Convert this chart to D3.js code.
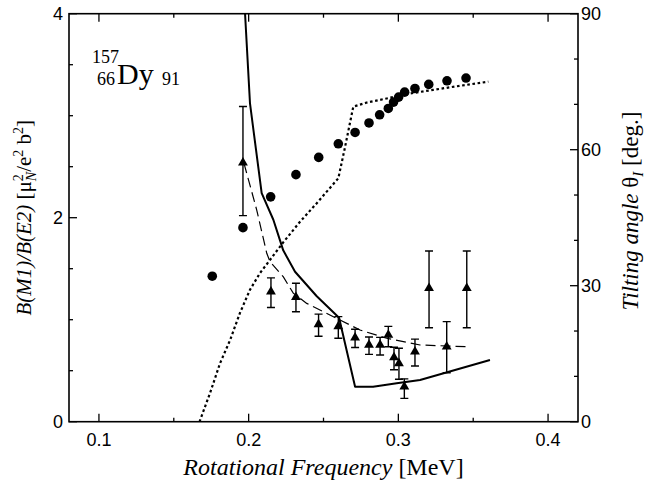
<!DOCTYPE html>
<html>
<head>
<meta charset="utf-8">
<script src="https://cdn.jsdelivr.net/npm/d3@7"></script>
<style>
  body { margin: 0; background: #fff; }
  svg { display: block; }
  .tick-label { font-family: "Liberation Sans", Arial, sans-serif; font-size: 18px; fill: #000; }
  .serif { font-family: "Liberation Serif", "Times New Roman", serif; fill: #000; }
</style>
</head>
<body>
<div id="chart"></div>
<script>
// x axis
const xDomain = [0.08, 0.42];
const xMajor = [0.1, 0.2, 0.3, 0.4];
const xMinor = [0.1, 0.15, 0.2, 0.25, 0.3, 0.35, 0.4];
// left axis: B(M1)/B(E2)
const leftDomain = [0, 4];
const leftMajor = [0, 2, 4];
const leftMinor = [0.5, 1, 1.5, 2.5, 3, 3.5];
// right axis: tilting angle
const rightDomain = [0, 90];
const rightMajor = [0, 30, 60, 90];
const rightMinor = [10, 20, 40, 50, 70, 80];

// experimental tilting angle (circles)
const tiltOmega = [0.1757, 0.1962, 0.2147, 0.2316, 0.2468, 0.2599, 0.2711, 0.2804, 0.2875, 0.2933, 0.2968, 0.3002, 0.3042, 0.3111, 0.3203, 0.3325, 0.3452];
const tiltAngle = [32.1, 42.8, 49.6, 54.5, 58.3, 61.3, 63.8, 65.9, 67.7, 69.1, 70.5, 71.6, 72.7, 73.5, 74.4, 75.2, 75.8];

// theoretical tilting angle (dotted)
const tiltCalcOmega = [0.1672, 0.1742, 0.1809, 0.1876, 0.1942, 0.2009, 0.2076, 0.2143, 0.2232, 0.2343, 0.2455, 0.2599, 0.2644, 0.2699, 0.2789, 0.2922, 0.3078, 0.3232, 0.3412, 0.3601];
const tiltCalcAngle = [0, 6.3, 12.9, 18.0, 24.0, 29.1, 32.8, 35.7, 39.6, 44.1, 48.2, 53.7, 60.6, 69.5, 70.4, 71.3, 72.4, 73.2, 74.1, 75.0];

// experimental B(M1)/B(E2) (triangles with errors)
const ratioOmega = [0.1962, 0.2149, 0.2316, 0.2467, 0.2599, 0.2711, 0.2804, 0.2878, 0.2933, 0.2971, 0.3004, 0.3040, 0.3111, 0.3205, 0.3323, 0.3457];
const ratioValue = [2.54, 1.275, 1.22, 0.955, 0.935, 0.823, 0.752, 0.752, 0.85, 0.63, 0.572, 0.343, 0.686, 1.31, 0.735, 1.31];
const ratioLow   = [2.02, 1.12, 1.078, 0.838, 0.818, 0.727, 0.66, 0.654, 0.735, 0.51, 0.416, 0.229, 0.546, 0.921, 0.48, 0.921];
const ratioHigh  = [3.09, 1.41, 1.357, 1.055, 1.03, 0.907, 0.83, 0.827, 0.935, 0.73, 0.72, 0.42, 0.81, 1.674, 0.981, 1.674];

// theoretical B(M1)/B(E2), solid
const solidOmega = [0.1976, 0.2009, 0.2087, 0.2165, 0.2209, 0.2231, 0.2310, 0.2455, 0.2604, 0.2711, 0.2831, 0.2989, 0.3145, 0.3612];
const solidRatio = [4.0, 3.12, 2.24, 1.98, 1.78, 1.68, 1.47, 1.23, 1.02, 0.343, 0.343, 0.376, 0.409, 0.605];

// theoretical B(M1)/B(E2), dashed
const dashOmega = [0.1969, 0.2054, 0.2121, 0.2143, 0.2232, 0.2298, 0.2388, 0.2610, 0.2744, 0.2922, 0.3145, 0.3457];
const dashRatio = [2.533, 2.075, 1.651, 1.569, 1.42, 1.26, 1.16, 0.997, 0.899, 0.818, 0.752, 0.735];

const width = 645, height = 483;
const padding = { left: 69, right: 67, top: 13.7, bottom: 61.3 };
const innerWidth = width - padding.left - padding.right;
const innerHeight = height - padding.top - padding.bottom;

const svg = d3.select("#chart").append("svg").attr("width", width).attr("height", height);
const g = svg.append("g").attr("transform", `translate(${padding.left}, ${padding.top})`);

const x = d3.scaleLinear().domain(xDomain).range([0, innerWidth]);
const yL = d3.scaleLinear().domain(leftDomain).range([innerHeight, 0]);
const yR = d3.scaleLinear().domain(rightDomain).range([innerHeight, 0]);

g.append("clipPath").attr("id", "plot-clip")
  .append("rect").attr("width", innerWidth).attr("height", innerHeight);

// frame
g.append("rect")
  .attr("width", innerWidth).attr("height", innerHeight)
  .attr("fill", "none").attr("stroke", "#000").attr("stroke-width", 1.6);

// ticks, all pointing inward
const tickG = g.append("g").attr("stroke", "#000").attr("stroke-width", 1.3);
const len = (v, major) => (major.some((m) => Math.abs(m - v) < 1e-9) ? 8 : 4);
xMinor.forEach((v) => {
  const l = len(v, xMajor);
  tickG.append("line").attr("x1", x(v)).attr("x2", x(v)).attr("y1", innerHeight).attr("y2", innerHeight - l);
  tickG.append("line").attr("x1", x(v)).attr("x2", x(v)).attr("y1", 0).attr("y2", l);
});
leftMajor.concat(leftMinor).forEach((v) => {
  tickG.append("line").attr("x1", 0).attr("x2", len(v, leftMajor)).attr("y1", yL(v)).attr("y2", yL(v));
});
rightMajor.concat(rightMinor).forEach((v) => {
  tickG.append("line").attr("x1", innerWidth).attr("x2", innerWidth - len(v, rightMajor)).attr("y1", yR(v)).attr("y2", yR(v));
});

// tick labels
xMajor.forEach((v) => {
  g.append("text").attr("class", "tick-label")
    .attr("x", x(v)).attr("y", innerHeight + 24)
    .attr("text-anchor", "middle").text(d3.format(".1f")(v));
});
leftMajor.forEach((v) => {
  g.append("text").attr("class", "tick-label")
    .attr("x", -6).attr("y", yL(v)).attr("dy", "0.36em")
    .attr("text-anchor", "end").text(v);
});
rightMajor.forEach((v) => {
  g.append("text").attr("class", "tick-label")
    .attr("x", innerWidth + 3).attr("y", yR(v)).attr("dy", "0.36em")
    .attr("text-anchor", "start").text(v);
});

const plot = g.append("g").attr("clip-path", "url(#plot-clip)");

// theory lines
const lineL = d3.line().x((d) => x(d[0])).y((d) => yL(d[1]));
const lineR = d3.line().x((d) => x(d[0])).y((d) => yR(d[1]));

plot.append("path")
  .datum(d3.zip(tiltCalcOmega, tiltCalcAngle))
  .attr("d", lineR).attr("fill", "none").attr("stroke", "#000")
  .attr("stroke-width", 2.2).attr("stroke-dasharray", "2.6,2.6");

plot.append("path")
  .datum(d3.zip(dashOmega, dashRatio))
  .attr("d", lineL).attr("fill", "none").attr("stroke", "#000")
  .attr("stroke-width", 1.2).attr("stroke-dasharray", "10,5");

plot.append("path")
  .datum(d3.zip(solidOmega, solidRatio))
  .attr("d", lineL).attr("fill", "none").attr("stroke", "#000")
  .attr("stroke-width", 2).attr("stroke-linejoin", "round");

// circles: tilting angle
plot.append("g").selectAll("circle")
  .data(d3.zip(tiltOmega, tiltAngle))
  .join("circle")
  .attr("cx", (d) => x(d[0])).attr("cy", (d) => yR(d[1]))
  .attr("r", 4.8).attr("fill", "#000");

// triangles with error bars
const ratioData = ratioOmega.map((o, i) => ({ o, v: ratioValue[i], lo: ratioLow[i], hi: ratioHigh[i] }));
const errG = plot.append("g").attr("stroke", "#000").attr("stroke-width", 1.4);
ratioData.forEach((d) => {
  const cx = x(d.o);
  errG.append("line").attr("x1", cx).attr("x2", cx).attr("y1", yL(d.lo)).attr("y2", yL(d.hi));
  [d.lo, d.hi].forEach((e) => {
    errG.append("line").attr("x1", cx - 4).attr("x2", cx + 4).attr("y1", yL(e)).attr("y2", yL(e));
  });
});
plot.append("g").selectAll("path")
  .data(ratioData)
  .join("path")
  .attr("d", d3.symbol(d3.symbolTriangle, 42))
  .attr("transform", (d) => `translate(${x(d.o)}, ${yL(d.v)})`)
  .attr("fill", "#000");

// nuclide label
const nuc = svg.append("g").attr("class", "serif");
nuc.append("text").attr("x", 92).attr("y", 63).attr("font-size", 18).text("157");
nuc.append("text").attr("x", 97).attr("y", 85).attr("font-size", 18).text("66");
nuc.append("text").attr("x", 117).attr("y", 84).attr("font-size", 30).text("Dy");
nuc.append("text").attr("x", 162).attr("y", 85).attr("font-size", 18).text("91");

// x axis title
const xt = svg.append("text").attr("class", "serif")
  .attr("x", padding.left + innerWidth / 2).attr("y", 475)
  .attr("text-anchor", "middle").attr("font-size", 24);
xt.append("tspan").attr("font-style", "italic").text("Rotational Frequency");
xt.append("tspan").text(" [MeV]");

// left axis title
const ly = svg.append("text").attr("class", "serif")
  .attr("transform", `translate(31, ${padding.top + innerHeight / 2}) rotate(-90)`)
  .attr("text-anchor", "middle").attr("font-size", 21);
ly.append("tspan").attr("font-style", "italic").text("B(M1)/B(E2)");
ly.append("tspan").text(" [μ");
ly.append("tspan").attr("font-size", 14).attr("dy", -8).text("2");
ly.append("tspan").attr("font-size", 14).attr("font-style", "italic").attr("dx", -7).attr("dy", 13).text("N");
ly.append("tspan").attr("dy", -5).text("/e");
ly.append("tspan").attr("font-size", 14).attr("dy", -8).text("2");
ly.append("tspan").attr("dy", 8).text(" b");
ly.append("tspan").attr("font-size", 14).attr("dy", -8).text("2");
ly.append("tspan").attr("dy", 8).text("]");

// right axis title
const ry = svg.append("text").attr("class", "serif")
  .attr("transform", "translate(638, 211) rotate(-90)")
  .attr("text-anchor", "middle").attr("font-size", 23);
ry.append("tspan").attr("font-style", "italic").text("Tilting angle");
ry.append("tspan").text("  θ");
ry.append("tspan").attr("font-size", 15).attr("font-style", "italic").attr("dy", 5).text("I");
ry.append("tspan").attr("dy", -5).text(" [deg.]");
</script>
</body>
</html>
